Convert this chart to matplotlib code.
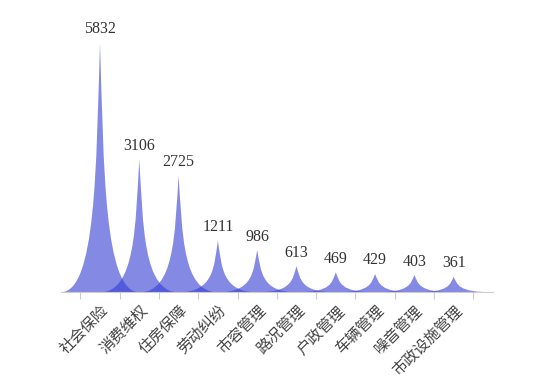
import matplotlib
matplotlib.use("Agg")
import matplotlib.pyplot as plt
from matplotlib.path import Path
from matplotlib.patches import PathPatch

categories = ["社会保险", "消费维权", "住房保障", "劳动纠纷", "市容管理",
              "路况管理", "户政管理", "车辆管理", "噪音管理", "市政设施管理"]
values = [5832, 3106, 2725, 1211, 986, 613, 469, 429, 403, 361]

W, H = 546, 380
fig = plt.figure(figsize=(W / 100, H / 100), dpi=100)
x0, x1 = 60.7, 493.0
yb, yt = 292.3, 43.0
ax = fig.add_axes([x0 / W, 1 - yb / H, (x1 - x0) / W, (yb - yt) / H])
ax.set_xlim(-1, len(categories))
ax.set_ylim(0, max(values))

fill = (50 / 255, 60 / 255, 210 / 255, 0.6)
for i, v in enumerate(values):
    c = i
    verts = [(c - 1, 0), (c + 1, 0),
             (c + 0.1, 0), (c + 0.1, v * 0.5), (c, v),
             (c - 0.1, v * 0.5), (c - 0.1, 0), (c - 1, 0),
             (c - 1, 0)]
    codes = [Path.MOVETO, Path.LINETO,
             Path.CURVE4, Path.CURVE4, Path.CURVE4,
             Path.CURVE4, Path.CURVE4, Path.CURVE4,
             Path.CLOSEPOLY]
    ax.add_patch(PathPatch(Path(verts, codes), facecolor=fill, edgecolor="none",
                           clip_on=False))
    ax.annotate(str(v), (c, v), xytext=(0, 4), textcoords="offset points",
                ha="center", va="bottom", fontsize=11.5, color="#333333",
                family="Liberation Serif", annotation_clip=False)

for s in ["top", "right", "left"]:
    ax.spines[s].set_visible(False)
ax.spines["bottom"].set_color("#cccccc")
ax.set_yticks([])

ax.set_xticks([i - 0.5 for i in range(len(categories) + 1)])
ax.set_xticklabels([])
ax.tick_params(axis="x", which="major", length=5, color="#cccccc")
ax.set_xticks(range(len(categories)), minor=True)
ax.set_xticklabels(categories, minor=True, rotation=45, ha="right", va="top",
                   rotation_mode="anchor", fontsize=11, color="#444444",
                   family=["Noto Sans CJK SC", "DejaVu Sans"])
ax.tick_params(axis="x", which="minor", length=0, pad=7)

fig.savefig("out.png", dpi=100, facecolor="white")
